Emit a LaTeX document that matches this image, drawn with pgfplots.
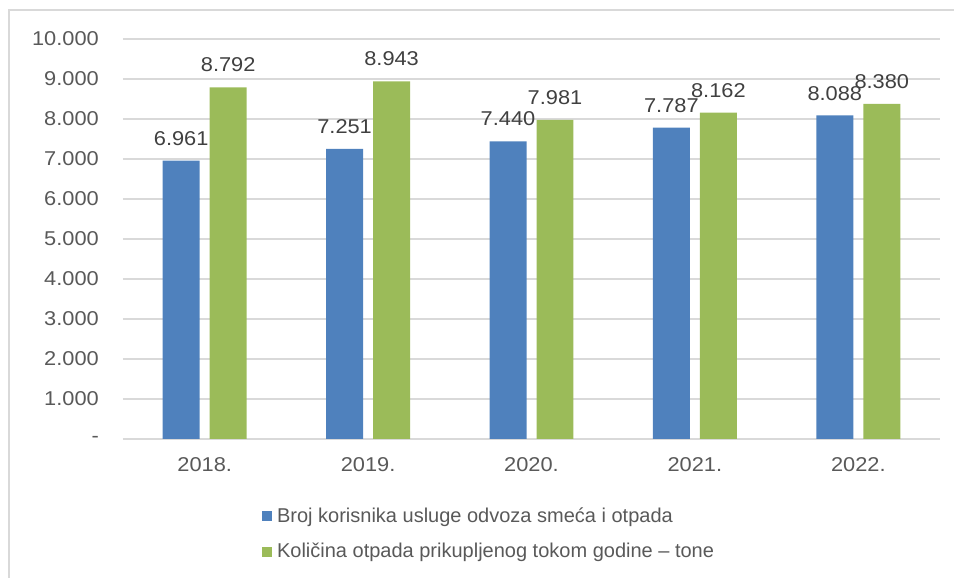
\documentclass[border=0pt]{standalone}
\usepackage{fontspec}
\setmainfont{Liberation Sans}
\newfontfamily\numfont[FakeStretch=1.09]{Liberation Sans}
\usepackage{pgfplots}
\pgfplotsset{compat=1.18}
\definecolor{cblue}{RGB}{79,129,189}
\definecolor{cgreen}{RGB}{155,187,89}
\definecolor{cgrid}{RGB}{217,217,217}
\definecolor{ctext}{RGB}{89,89,89}
\definecolor{clabel}{RGB}{64,64,64}
\begin{document}
\fontsize{20pt}{24pt}\selectfont
\begin{tikzpicture}[x=1pt,y=1pt]
\useasboundingbox (0,0) rectangle (954,578);
\draw[cgrid, line width=1.5pt] (9,0) -- (9,568) -- (954,568);
\begin{axis}[
  at={(123pt,139pt)}, anchor=south west,
  scale only axis, width=817pt, height=400pt,
  ybar, enlargelimits=false, clip=false,
  xmin=-0.5, xmax=4.5, ymin=0, ymax=10000,
  scaled y ticks=false,
  xtick=data, xticklabels={2018.,2019.,2020.,2021.,2022.},
  ytick={0,1000,...,10000},
  yticklabels={-\hspace{11pt},1.000,2.000,3.000,4.000,5.000,6.000,7.000,8.000,9.000,10.000},
  major tick length=0pt,
  axis x line*=bottom, axis y line*=left,
  y axis line style={draw=none},
  x axis line style={cgrid, line width=1.5pt},
  ymajorgrids, grid style={cgrid, line width=1.3pt},
  yticklabel style={font=\numfont\fontsize{20pt}{24pt}\selectfont, text=ctext, anchor=east, inner sep=0pt, xshift=-24pt},
  xticklabel style={font=\numfont\fontsize{20pt}{24pt}\selectfont, text=ctext, anchor=north, inner sep=0pt, yshift=-18pt},
  /pgf/number format/.cd, 1000 sep={.}, assume math mode=true, /pgfplots/.cd,
  nodes near coords,
  every node near coord/.append style={font=\numfont\fontsize{20pt}{24pt}\selectfont, text=clabel, anchor=south, inner sep=0pt, yshift=15pt},
  legend style={at={(0.170,-0.238)}, anchor=west, draw=none, fill=none, inner sep=0pt,
    legend cell align=left, row sep=18pt,
    nodes={inner sep=0pt, text=ctext, font=\fontsize{20pt}{24pt}\selectfont}},
  legend image code/.code={\fill[#1,draw=none] (0pt,-5pt) rectangle (10pt,5pt);},
]
\addplot[fill=cblue, draw=none, bar width=0.2264, bar shift=-0.1438] coordinates {(0,6961) (1,7251) (2,7440) (3,7787) (4,8088)};
\addlegendentry{\hspace{5pt}Broj korisnika usluge odvoza smeća i otpada}
\addplot[fill=cgreen, draw=none, bar width=0.2264, bar shift=0.1438] coordinates {(0,8792) (1,8943) (2,7981) (3,8162) (4,8380)};
\addlegendentry{\hspace{5pt}Količina otpada prikupljenog tokom godine – tone}
\end{axis}
\end{tikzpicture}
\end{document}
